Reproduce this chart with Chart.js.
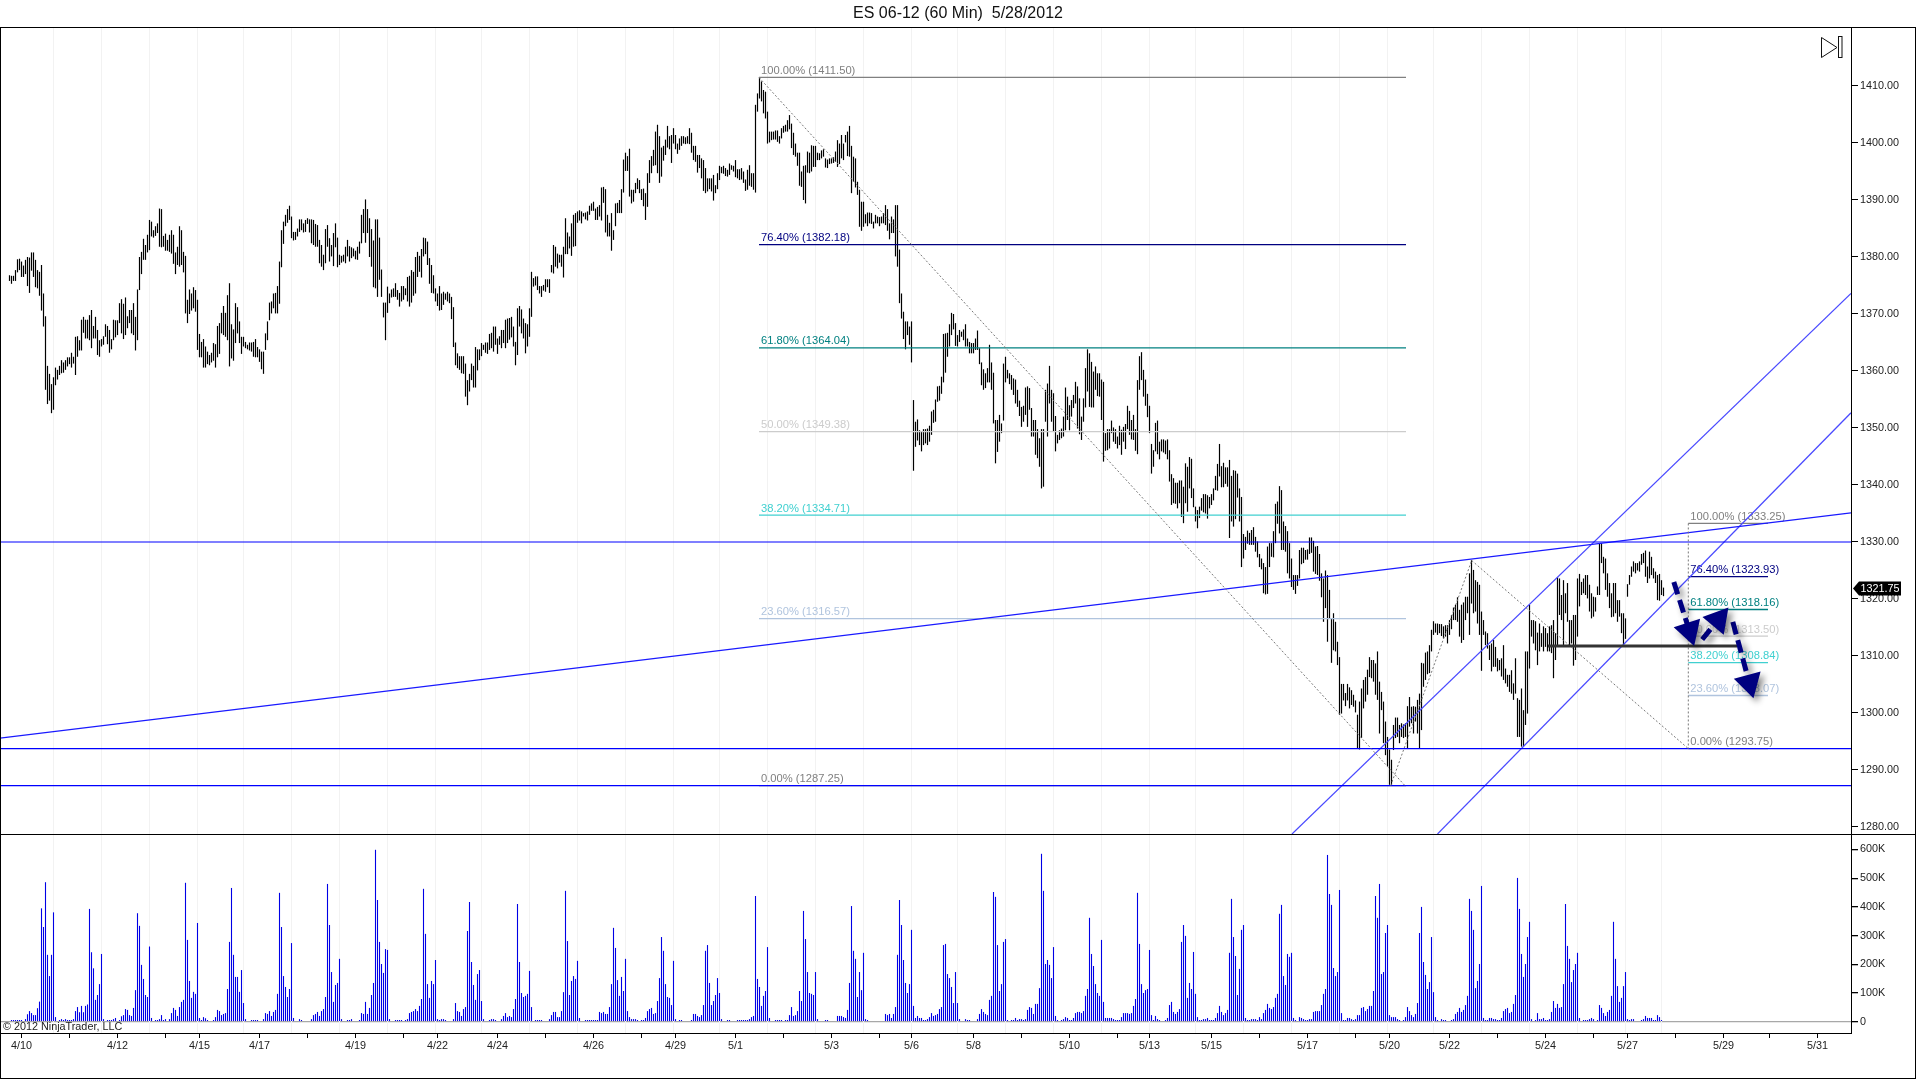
<!DOCTYPE html>
<html><head><meta charset="utf-8">
<style>
html,body{margin:0;padding:0;background:#fff;width:1920px;height:1079px;overflow:hidden}
canvas{position:absolute;left:0}
.line{position:absolute;background:#000}
</style>
<script src="https://cdn.jsdelivr.net/npm/chart.js@4"></script>
</head><body>
<canvas id="price" style="top:0" width="1916" height="834"></canvas>
<canvas id="vol" style="top:834px" width="1916" height="245"></canvas>
<div class="line" style="left:0;top:27px;width:1916px;height:1px"></div>
<div class="line" style="left:0;top:27px;width:1px;height:1052px"></div>
<div class="line" style="left:1915px;top:27px;width:1px;height:1052px"></div>
<div class="line" style="left:0;top:1078px;width:1916px;height:1px"></div>
<div class="line" style="left:0;top:834px;width:1916px;height:1px"></div>
<script>
const titleText = 'ES 06-12 (60 Min)  5/28/2012';
const highs = [
1376.8,1376.7,1376.7,1377.7,1379.6,1379.7,1379.2,1378.5,1379.5,1380,
1379.9,1380.8,1380.8,1379.5,1377.7,1377.4,1378.6,1373.6,1369.6,1360.9,
1359.5,1357.7,1358.9,1360.6,1360.2,1360.9,1361.9,1361.5,1361.9,1362.4,
1362.4,1363.2,1362.5,1366,1366.1,1365.4,1369,1369.5,1369,1369,
1369.8,1370.7,1367.9,1369.5,1367.2,1365.4,1365.6,1366.1,1368.2,1367.9,
1367.2,1365.6,1369,1368.9,1368.9,1371.9,1372.6,1371.8,1372.9,1369.6,
1370.7,1370.7,1371.9,1369.5,1374.3,1380,1380.9,1383.2,1382.1,1383.9,
1386.5,1386.2,1384.7,1385.4,1385.9,1388.5,1388.4,1383.7,1384.1,1383,
1383.9,1384.7,1383.9,1380.8,1381.8,1385.4,1384.7,1380.9,1380.2,1372.5,
1374.3,1373.6,1374.7,1374.2,1372.5,1366.5,1365.1,1365.6,1364.3,1363.4,
1362.8,1363.2,1364.9,1364.7,1367.9,1368.4,1370.2,1371.4,1370.2,1373.3,
1375.4,1368.2,1367.3,1371.9,1371.2,1368.7,1366,1366,1365.1,1364.6,
1365,1365,1365.1,1365.6,1364.2,1363.8,1363.4,1363.4,1366.6,1368.7,
1372,1372.2,1373.6,1373.7,1374.9,1379.2,1384.7,1386.2,1387.4,1388.4,
1389,1387.1,1384.4,1384.4,1385,1386.6,1386.6,1385.9,1386.5,1386.8,
1386.6,1386.6,1386.5,1385.8,1385.6,1383,1382.1,1380.4,1384.9,1385.6,
1383.3,1382.1,1384.2,1385.9,1383.4,1380.4,1380.2,1380.4,1381.8,1383,
1381.9,1381.7,1381.5,1381.1,1381.8,1382.7,1387.4,1388.4,1390.1,1388.4,
1386.8,1384.9,1382.9,1386.6,1386.6,1383.4,1377.8,1372,1372,1374.8,
1373.6,1374.3,1374.5,1375.4,1374.2,1373.7,1374.9,1374.9,1374.5,1376.5,
1376.7,1377.7,1377.4,1380,1380.9,1380.2,1381.4,1383.4,1383.3,1382.7,
1379.8,1378.6,1376.8,1374.5,1373.6,1374.9,1373.6,1373.9,1373.6,1373.9,
1373.6,1373,1371.2,1365,1363.1,1362.6,1362.6,1362.6,1361.3,1358.4,
1359.5,1361.3,1360.9,1364.2,1363.8,1363.8,1364.9,1364.6,1365,1365,
1366.5,1366.7,1367.8,1367.8,1365.7,1366.1,1367.2,1367.2,1369,1369.2,
1369.3,1369.5,1367.8,1365.1,1371,1371.4,1370.8,1369.2,1368.4,1368.2,
1371,1377.4,1376.3,1376.6,1376.6,1374.9,1374.9,1375.1,1376.1,1376.1,
1376.1,1378.6,1382.1,1381.8,1380.6,1380.4,1380.4,1381.8,1386.8,1384.3,
1383.6,1385.9,1387.4,1387.7,1388,1388.2,1388,1387.7,1387.8,1388,
1389,1389.4,1389.7,1388.5,1388.8,1389.1,1392.2,1392.3,1391.9,1387.4,
1386,1387.7,1384.7,1389.4,1389.5,1390,1391.9,1397.1,1398.3,1397.7,
1399,1391.8,1391.8,1393,1393.8,1393.5,1391.9,1392,1391.2,1394.7,
1397,1397.7,1398.8,1402,1403.2,1401.2,1399.2,1399.5,1400.6,1403,
1401.2,1401.4,1402.6,1401.4,1399.9,1400.8,1401.2,1401.2,1401,1401.2,
1402.6,1401.8,1399.5,1399.5,1397.9,1397.9,1397.3,1397,1395.6,1393.8,
1393.8,1393.8,1394.4,1392.6,1394.7,1396,1395.8,1396,1395.6,1395.3,
1396.4,1396.1,1396,1397,1395.4,1395.4,1395.6,1395,1393.6,1395.3,
1396.1,1394.7,1394.7,1406.7,1408.7,1411.5,1410.8,1409.3,1409,1405.5,
1402,1402,1402,1402.2,1402.2,1401.2,1402.6,1403,1403.2,1404,
1404.9,1403.4,1401.8,1399.9,1398.3,1398.3,1395,1396,1396.1,1398.5,
1398.3,1399.6,1399.5,1399.5,1398.3,1398.2,1398.7,1398.9,1397.3,1397.1,
1397.3,1397.3,1397.5,1398.5,1400.5,1399.9,1401.4,1399.9,1401.4,1402,
1403,1399.5,1397.6,1397.3,1393.2,1391.8,1389.7,1389.7,1387.5,1387.8,
1387.8,1387.7,1386.2,1387.4,1387.1,1387,1387.1,1387.7,1389.1,1388.4,
1385.9,1387.1,1386.6,1389.1,1389.1,1381.3,1373.6,1370.4,1368.7,1368.7,
1367.8,1368.7,1354.9,1351.1,1351.5,1349.6,1349.4,1349.8,1349.8,1349.9,
1350.4,1352.9,1353.2,1355,1357.3,1357.4,1359,1366.5,1366.6,1366.7,
1368.2,1370.2,1370,1368.4,1366.3,1367.2,1366.9,1367.3,1368.2,1365.7,
1365.1,1364.9,1364.9,1365.7,1367.1,1364,1361.5,1360.3,1359.6,1360.5,
1364.6,1361.5,1359.7,1351.4,1351.4,1352.3,1350.8,1361.3,1362.5,1360.2,
1359.6,1359.3,1358.7,1358.5,1356.7,1354.8,1353.7,1353.9,1357.1,1357.3,
1357,1353.5,1351.4,1351.4,1349.8,1348.2,1349.8,1349.8,1356.7,1357.8,
1360.9,1356.7,1356.1,1352.1,1348.8,1349.6,1349.9,1352,1357.1,1355.5,
1354,1354.9,1355.8,1358.1,1357.3,1355.2,1352,1355.2,1360.5,1363.8,
1363.1,1361.6,1359.9,1360.8,1359.6,1359.6,1358.5,1358.1,1349.1,1349.8,
1349.8,1351.3,1350.1,1349.8,1348.5,1350.4,1349.7,1350.2,1350.7,1353.9,
1353,1351.4,1352.3,1349.8,1358.4,1362.6,1363.3,1360.2,1358.5,1356,
1353.9,1347.2,1346.1,1350.9,1351.3,1347.6,1348,1348,1347.8,1348,
1346.1,1341.9,1341.2,1340.4,1340.4,1340.8,1340.8,1339.7,1343.8,1343.2,
1344.9,1344.6,1339.4,1336.2,1335.6,1336.2,1337.7,1338.4,1338.4,1338.2,
1337.9,1338.4,1339.4,1341.6,1343.7,1347.2,1343.3,1343.9,1343.1,1343.1,
1344.4,1341.6,1342.6,1342.5,1342,1339.4,1337.9,1331.4,1330.9,1332,
1331.6,1332.1,1332.6,1330.9,1330.1,1327.9,1327.1,1326.3,1325.6,1329.2,
1329.8,1329.8,1331.9,1336.7,1337.1,1339.8,1339.1,1333.6,1332.8,1331.9,
1329.8,1327.1,1324.2,1324.2,1324.2,1328.6,1329,1329,1328.6,1328.7,
1330.8,1330.8,1330.2,1329.2,1329.3,1327.9,1324.5,1323.6,1325,1324.2,
1321.6,1316.6,1317.5,1316,1312.5,1309.8,1305.1,1305.1,1303.5,1305.1,
1304.5,1304,1303.2,1302.2,1299.7,1302,1304.3,1305.8,1306.3,1307.6,
1309.8,1309.3,1309.3,1308.7,1310.8,1305.5,1303.7,1302,1298.5,1295.8,
1293.6,1291.8,1297.9,1299.2,1299.2,1297.9,1298.2,1298,1298.2,1301.2,
1302.8,1301.1,1301.2,1301.1,1302.3,1303.4,1308.8,1308.7,1310.6,1310.8,
1311.9,1314.6,1316.1,1315.7,1315.7,1315.6,1315.6,1315.2,1315.4,1315.4,
1316.3,1317.2,1318.5,1319,1320.3,1318.1,1319,1319.4,1320.4,1320.4,
1324.5,1326.8,1325.1,1323.3,1323,1322.5,1317.8,1316.3,1314.3,1314,
1311.9,1312.2,1312.8,1311.6,1309.6,1309.3,1309.6,1311.9,1307.8,1306.7,
1306.7,1307.5,1305.2,1309.6,1302.6,1302.3,1304.3,1300.5,1310.8,1310.8,
1319,1316.3,1316.3,1316.1,1314.1,1315.7,1314,1315.2,1314.9,1314,
1315.2,1315.4,1316.3,1314,1323.8,1323.6,1320.7,1323.3,1321,1322.8,
1316.3,1316.3,1317.2,1317.2,1323.6,1324.4,1323,1323.6,1324.2,1324.2,
1322.5,1321,1320.4,1320.3,1322.2,1329.8,1329.8,1327.4,1327.1,1324.5,
1322.8,1321,1322.8,1322.8,1319.8,1319.8,1317.5,1317.5,1316.6,1322.6,
1324.2,1325.7,1326.6,1326.3,1326.3,1326.6,1327.9,1328.1,1328.5,1325.7,
1328.3,1327.4,1325.4,1324.8,1324.2,1324.4,1323.3,1322];
const lows = [
1375.8,1375.3,1375.8,1375.8,1377.3,1377.7,1376.5,1376.5,1377,1374.9,
1373.7,1377.6,1376.5,1374.7,1374.5,1373.2,1370.6,1367.8,1356.7,1354.2,
1354.8,1352.6,1353.2,1357.5,1358.5,1359.3,1359.6,1359.7,1360.2,1360.8,
1361.2,1360.6,1361.3,1359.3,1362.5,1363.6,1363.6,1366.7,1365.7,1365.7,
1365.4,1364,1365.7,1365.7,1362.8,1362.5,1364.3,1364.6,1366,1364.7,
1363.2,1363.8,1365.4,1365.9,1366.3,1368.4,1366.6,1365.6,1366.3,1367.5,
1368.4,1366.6,1366.3,1363.6,1365.4,1374.2,1377,1379.5,1379.5,1380.8,
1381.2,1383.6,1383.4,1383.7,1384.2,1381.8,1381.7,1381.8,1381.1,1381.1,
1380.9,1380.6,1378.8,1377,1378.6,1378.3,1378.6,1377.3,1370.1,1368.4,
1370,1370.6,1371,1370.4,1363.7,1362.4,1362.4,1360.6,1360.6,1361.2,
1361,1361.5,1361.8,1360.6,1362.4,1363,1366.6,1366.3,1366,1365.4,
1360.8,1362.2,1361.8,1364.9,1366.6,1364.9,1363,1364.3,1364,1363.8,
1363.6,1363.4,1362.5,1362.4,1362.4,1361.6,1360.3,1359.5,1363.7,1365.4,
1368.9,1370.1,1371,1370.1,1370.1,1371.8,1378.2,1382.3,1385.4,1386,
1386.5,1383.3,1382.9,1383,1383.6,1384.4,1384.7,1384.3,1384.4,1385.8,
1384.3,1382.4,1382.1,1381.8,1381.8,1378.9,1378.3,1377.7,1378.9,1381.8,
1379.2,1380.1,1378.4,1381.7,1378.2,1378.6,1379,1379.2,1378.9,1380.1,
1379.2,1379.8,1380.1,1379.6,1379.5,1380.6,1382.4,1384.2,1382.5,1384.2,
1380,1378.3,1374.7,1374.5,1373,1376,1373,1369.4,1365.4,1370.2,
1371.9,1372.9,1373,1373,1372.5,1371.3,1372.2,1372.5,1373.3,1372.2,
1371.3,1372,1373.2,1373.6,1376.5,1377.4,1376.4,1380.1,1380.5,1378.6,
1375.3,1373.7,1373.6,1372.2,1371.4,1370.6,1370.7,1371.6,1372.5,1372.2,
1371.9,1369.1,1364.2,1361,1360.5,1360.2,1359.6,1359.5,1355.5,1354,
1356.4,1358.4,1357.1,1357.1,1360.1,1361.9,1362.6,1363.7,1363.2,1363,
1363.7,1364,1363.4,1364.6,1363,1364.6,1364,1364.9,1364,1364.9,
1365.5,1365.9,1364.3,1361,1362.8,1367.8,1366.6,1365.7,1363.1,1364.3,
1366,1369.5,1374.8,1375,1374.2,1373.6,1373,1374.1,1373.9,1374.7,
1373.7,1377.3,1377.1,1378.3,1378,1379,1378.3,1376.4,1380.5,1380.5,
1381.5,1380.2,1381.8,1381.9,1386,1386.4,1385.9,1387.1,1386.6,1386.4,
1387.4,1388.1,1388.1,1386.5,1386.5,1387.1,1386.4,1389.5,1384.3,1383.6,
1383.6,1381.1,1383,1385.4,1387.7,1387.7,1387.7,1391.3,1395.1,1395.1,
1390.6,1389.4,1389.7,1391.2,1391.9,1391.2,1390,1388.9,1386.5,1388.8,
1393,1394.7,1396,1396.1,1394.7,1393,1394.1,1396.9,1397.9,1399.2,
1398.9,1396.5,1399.9,1398.9,1398.1,1398.8,1399.5,1399.9,1399.8,1399.9,
1399.8,1398.3,1397,1396.7,1394.8,1395.6,1393.8,1391.6,1391.2,1391.5,
1391.9,1391.5,1389.9,1391.2,1391.9,1393.5,1394.7,1394.6,1394.2,1394.1,
1394.4,1395.3,1395,1394,1393.8,1393.5,1393.6,1393,1391.6,1391.8,
1392.5,1392.3,1391.8,1391.3,1405.5,1407.8,1407.3,1405.2,1404.3,1399.9,
1400.1,1400.5,1400.6,1400.6,1400.2,1399.9,1400.8,1401.8,1402,1402,
1402.4,1399.1,1397.9,1397.6,1396,1392.5,1392.3,1390,1389.4,1394.8,
1394.7,1395,1395.8,1395.8,1397,1397,1397.3,1397.6,1395.7,1395.6,
1396.3,1396.4,1396.5,1396.7,1395.8,1396.3,1397.3,1397,1400.1,1397.7,
1397.6,1391.2,1393.2,1392.2,1390.9,1385.3,1384.6,1385.3,1385.9,1385.4,
1385.9,1385.8,1385,1385.9,1385.9,1385.4,1385.9,1385.9,1385.6,1384.6,
1383.1,1384.2,1384.2,1380.1,1378.3,1371.9,1369.2,1365.6,1363.8,1366.3,
1364.6,1361.5,1342.5,1346.7,1347.8,1347,1345.9,1347,1347.3,1347,
1347.6,1348.8,1350.9,1351.1,1354.6,1354.8,1356,1358,1359.7,1362.5,
1364.3,1366.3,1367.3,1364.4,1364.3,1365.1,1366,1365.4,1364.3,1364.3,
1363.1,1363.1,1363.1,1363.7,1363.7,1361.2,1357.5,1356.7,1357,1358,
1358,1356.7,1350.8,1343.8,1345.8,1347.6,1349.1,1351.3,1358,1358.7,
1357.7,1356.7,1355.8,1354.3,1353.7,1352.1,1350.2,1351.1,1352.3,1350.2,
1353.2,1348.5,1348.5,1345.3,1344.7,1343.2,1339.4,1339.7,1351.1,1348.5,
1354.3,1351.1,1349.4,1345.9,1347.3,1347.9,1348.2,1348.5,1349.6,1351.4,
1349.6,1352,1353.5,1354.3,1349.9,1348.9,1347.9,1351.1,1353.6,1356.4,
1353.7,1353.6,1353.6,1356.7,1355.6,1355.5,1351.4,1344.1,1346,1346.1,
1346.4,1349.1,1347.6,1347.2,1346.4,1347,1345.3,1347.6,1346.3,1349.8,
1348.8,1348,1347.9,1346,1345.4,1356.7,1358.4,1355.5,1353.9,1351.9,
1349.1,1342,1343.2,1345.9,1345.4,1344.5,1345.9,1345.7,1345.4,1344.5,
1340.6,1336.5,1336.8,1336.7,1335.9,1336.8,1334.4,1333.3,1336.8,1335.3,
1339.4,1337.7,1336.1,1333.6,1332.4,1334.2,1335.5,1335.2,1335,1334.1,
1335.9,1336.5,1337.3,1339.1,1339,1341.5,1339.6,1339.6,1340.2,1339.7,
1330.7,1333.6,1332.7,1334,1337.8,1333.6,1325.6,1327.1,1328.6,1329.7,
1329.5,1329.5,1329.5,1328.3,1327.3,1325.6,1325.2,1321,1320.8,1320.9,
1325.6,1327.4,1327.3,1329.8,1333.2,1331.5,1328.6,1328.6,1328.3,1324.5,
1323.6,1322.1,1321.6,1320.9,1322.3,1323.6,1326.1,1326.3,1326.9,1326.9,
1327.9,1328.1,1324.8,1324.4,1324.2,1323.2,1320.3,1316,1318.4,1312.5,
1316.6,1308.8,1311,1310.8,1308.4,1299.7,1299.9,1302.2,1301.2,1302.2,
1300.8,1301.4,1301.1,1300.1,1293.8,1293.6,1295.6,1300.8,1302,1303.2,
1306.3,1306.1,1305.5,1303.2,1302.3,1296.4,1300.5,1294.7,1292.6,1290.6,
1287.4,1287.4,1293.5,1295.6,1295.8,1294.7,1295.8,1295.6,1295.8,1293.8,
1297.6,1298.2,1296.4,1298.5,1296.4,1293.8,1297,1304.6,1305.8,1306.8,
1307,1310.8,1313.7,1314.1,1313.7,1314,1313.5,1313.1,1313.4,1312.2,
1313.7,1314.7,1316.3,1316.3,1316,1313.4,1312.3,1312.8,1316.3,1317.5,
1313.7,1319.2,1317.5,1317.8,1315.7,1313.7,1307.4,1313.7,1311.9,1311.3,
1309.3,1307.3,1308.1,1308.1,1307.3,1307.5,1306.4,1305.8,1305.2,1304.6,
1303.7,1303.4,1302.3,1303.4,1295.8,1295.8,1294.1,1294.1,1297.9,1299.9,
1307.8,1313.4,1312.2,1311,1308.4,1310.8,1311.6,1310.8,1311.6,1310.8,
1310.8,1310.5,1306.1,1309.3,1311.6,1317.2,1316.3,1311.6,1317.5,1316,
1311.9,1312.2,1308.3,1309.3,1313.4,1318.7,1320.7,1321,1320.7,1320.1,
1317.8,1316.6,1316.9,1317.8,1320.7,1320.7,1326.3,1324.5,1321.6,1320.4,
1318.4,1316.8,1316.9,1317.5,1316,1316.9,1314,1311.9,1313,1320.4,
1322.5,1323.9,1324.8,1324.5,1325,1324.8,1326,1326.3,1323.9,1322.8,
1323.6,1324.2,1323.6,1322.8,1319.8,1319.7,1320.7,1320.5];
const volumes = [0,
6,6,6,6,6,6,0,9,26,37,30,23,23,47,70,395,330,486,233,159,233,381,16,0,6,9,6,9,6,6,6,9,37,51,33,55,33,55,60,393,242,186,76,93,131,236,9,0,6,6,6,9,13,0,6,19,23,44,41,23,20,48,110,378,334,198,149,93,86,262,13,0,6,6,9,23,6,9,0,9,30,48,41,20,51,69,76,484,285,142,83,104,97,344,13,6,16,12,6,0,0,6,16,41,37,23,27,30,114,278,466,233,156,156,104,180,65,9,0,0,6,6,6,6,0,0,9,30,27,37,20,34,41,97,449,330,159,121,86,114,274,13,0,0,9,6,0,0,0,0,9,23,27,34,20,37,44,86,480,337,173,69,128,135,219,9,0,0,6,6,9,0,0,0,6,30,27,69,27,48,93,135,599,424,278,201,170,253,250,9,0,0,6,6,6,6,0,6,9,30,34,37,44,37,55,79,463,306,131,83,142,131,215,9,6,9,9,6,0,0,0,9,65,37,34,20,44,51,316,417,208,128,76,166,180,72,9,0,0,6,9,9,6,0,
0,9,20,30,16,20,16,44,79,410,208,100,86,90,97,177,51,0,6,6,6,6,0,0,0,9,23,34,34,16,16,37,103,456,281,93,142,159,149,212,13,0,0,6,6,6,6,6,6,6,34,30,34,27,27,51,131,327,257,145,90,156,107,219,37,16,9,9,9,6,0,6,6,13,37,44,48,27,30,72,152,295,247,131,86,83,58,212,9,0,6,6,0,0,0,0,6,27,27,20,16,23,58,247,267,135,58,72,93,152,100,9,0,0,6,6,0,0,0,6,6,6,6,6,6,9,16,20,438,149,121,55,90,107,260,13,0,0,6,6,6,6,0,6,6,23,51,20,23,37,107,72,386,288,173,100,97,93,173,9,0,0,0,6,6,0,0,0,0,20,20,20,16,13,41,135,403,247,219,86,173,110,240,9,6,0,0,0,0,0,0,0,0,27,23,27,13,27,51,233,424,337,215,135,100,131,320,55,13,20,13,13,6,6,9,16,30,20,23,27,44,51,267,271,166,152,121,65,173,65,9,0,0,9,6,6,0,0,0,9,27,
44,34,27,23,76,90,452,435,267,107,131,278,288,6,0,6,6,13,6,9,9,6,9,41,51,48,27,62,62,117,585,456,201,215,198,152,260,20,6,0,6,9,16,13,6,6,13,30,34,34,30,37,90,114,362,236,194,131,100,90,285,69,13,13,13,13,9,6,6,6,16,30,30,30,27,30,55,79,449,271,131,100,110,114,250,23,6,20,9,6,0,0,6,13,58,69,34,27,34,44,278,337,299,83,135,114,243,97,16,6,6,9,9,13,6,6,6,13,30,55,34,23,30,41,240,428,295,229,93,184,320,337,13,6,6,9,9,9,6,16,9,30,41,62,48,44,51,83,97,376,407,159,128,236,226,240,13,6,0,16,13,9,6,6,9,9,34,37,37,37,58,97,114,581,445,407,187,159,173,459,30,6,6,13,13,9,6,9,23,23,48,51,37,44,55,55,107,438,362,480,166,173,309,337,23,16,16,16,9,6,0,6,16,51,37,23,16,27,65,309,400,208,163,114,138,295,103,16,6,0,9,6,6,0,0,6,9,27,34,48,
34,41,58,90,428,386,320,117,142,201,473,13,6,6,13,13,9,9,6,6,13,37,44,48,30,34,62,93,501,393,236,156,201,295,348,9,0,6,30,9,9,13,6,6,9,34,72,48,62,48,51,131,410,264,219,138,180,201,240,13,0,6,6,6,9,13,9,0,6,58,48,30,20,34,41,90,348,219,124,69,83,124,173,9,6,9,9,0,0,0,6,9,20,13,13,13,6,6,23,16,6,0];

const priceTicks = [1280,1290,1300,1310,1320,1330,1340,1350,1360,1370,1380,1390,1400,1410];
const volumeTicks = [0,100,200,300,400,500,600];
const xTickBars = [6,30,54,78,95,125,149,173,197,214,244,268,292,316,333,363,387,411,435,451,482,506,530,554,570,601,625,649,673,690,720,744,768,792,809,833,857,880,904];
const xTickLabels = ['4/10','','4/12','','4/15','4/17','','4/19','','4/22','4/24','','4/26','','4/29','5/1','','5/3','','5/6','5/8','','5/10','','5/13','5/15','','5/17','','5/20','5/22','','5/24','','5/27','','5/29','','5/31'];
const gridBars = [22,46,70,94,117,141,165,189,213,236,260,284,308,332,355,379,403,427,451,474,498,522,546,570,593,617,641,665,689,712,736,760,784,808,826];

const fibLevelsA = [[100,1411.50,'#808080'],[76.4,1382.18,'#000080'],[61.8,1364.04,'#008080'],[50,1349.38,'#cccccc'],[38.2,1334.71,'#40d0d0'],[23.6,1316.57,'#b0c4de'],[0,1287.25,'#808080']];
const fibLevelsB = [[100,1333.25,'#808080'],[76.4,1323.93,'#000080'],[61.8,1318.16,'#008080'],[50,1313.50,'#cccccc'],[38.2,1308.84,'#40d0d0'],[23.6,1303.07,'#b0c4de'],[0,1293.75,'#808080']];
const fibSpanA = [374.75,698.25];
const fibSpanB = [839.4,879.25];
const horizontalLevels = [1330,1293.75,1287.25];
const supportLine = [[-4.75,1295.6],[920.75,1335.1]];
const channelUpper = [[641.25,1278.77],[920.75,1373.6]];
const channelLower = [[714,1278.77],[920.75,1352.67]];
const dottedLines = [[[374.75,1411.5],[697.75,1287.25]],[[690.6,1287.25],[731.1,1326.75]],[[731.1,1326.75],[839.4,1293.75]],[[839.4,1333.25],[839.4,1293.75]]];
const pivotLine = [[769.25,1311.75],[863.75,1311.75]];
const arrowPaths = [[[832.15,1323.0],[839.9,1314.44]],[[846.35,1312.9],[854.35,1316.35]],[[861.65,1316.0],[869.9,1305.3]]];
const arrowAngles = [162.4,39.8,164.9];
const lastPrice = 1321.75;
const copyrightText = '\u00A9 2012 NinjaTrader, LLC';

const XMIN=-4.75, XMAX=920.75, PMIN=1278.77, PMAX=1420.35, VMIN=-39.4, VMAX=654;
const FONT='"Liberation Sans", Arial, sans-serif';
const TEXT='#222222';
const pts = a => a.map(p=>({x:p[0],y:p[1]}));
const lineDs = (data,color,width,extra) => Object.assign({type:'line',data,borderColor:color,borderWidth:width,pointRadius:0,tension:0,fill:false,order:2},extra||{});
const gridData = (lo,hi) => gridBars.flatMap(g=>[{x:g,y:hi},{x:g,y:lo},{x:g,y:null}]);
const fitRightAxis = s => {s.width=65;s.paddingTop=0;s.paddingBottom=0;};

const xScale = extra => Object.assign({type:'linear',min:XMIN,max:XMAX,offset:false,
  afterBuildTicks(s){s.ticks=xTickBars.map(value=>({value}));}},extra);

const fibDatasets = (levels,span) => levels.map(l=>lineDs([{x:span[0],y:l[1]},{x:span[1],y:l[1]}],l[2],1.3,{order:3}));

const pricePlugin = {id:'priceMarks',
  beforeDatasetDraw(c,a){const d=c.data.datasets[a.index];
    if(d.arrowShadow){c.ctx.shadowColor='rgba(0,0,0,0.45)';c.ctx.shadowBlur=6;c.ctx.shadowOffsetX=4;c.ctx.shadowOffsetY=4;}},
  afterDatasetDraw(c,a){const d=c.data.datasets[a.index],g=c.ctx;
    if(d.arrowShadow){g.shadowColor='transparent';g.shadowBlur=0;g.shadowOffsetX=0;g.shadowOffsetY=0;}
    if(d.fibText){
      const x=c.scales.x,y=c.scales.y;
      g.save();g.font='11.2px '+FONT;g.textBaseline='bottom';g.textAlign='left';
      [[fibLevelsA,fibSpanA],[fibLevelsB,fibSpanB]].forEach(([lv,sp])=>lv.forEach(l=>{
        g.fillStyle=l[2];
        g.fillText(l[0].toFixed(2)+'% ('+l[1].toFixed(2)+')',x.getPixelForValue(sp[0])+2,y.getPixelForValue(l[1])-1);
      }));
      g.restore();
    }},
  afterDraw(c){const g=c.ctx,y=c.scales.y.getPixelForValue(lastPrice)-0.5;
    g.save();
    g.fillStyle='#000';g.beginPath();g.moveTo(1853,y);g.lineTo(1859,y-7);g.lineTo(1901,y-7);g.lineTo(1901,y+7);g.lineTo(1859,y+7);g.closePath();g.fill();
    g.fillStyle='#fff';g.font='10.8px '+FONT;g.textBaseline='middle';g.textAlign='left';g.fillText(lastPrice.toFixed(2),1860.5,y+0.5);
    g.strokeStyle='#111';g.lineWidth=1;g.beginPath();g.moveTo(1821.5,37.5);g.lineTo(1837,47.5);g.lineTo(1821.5,57.5);g.closePath();g.stroke();
    g.strokeRect(1838.5,36.5,3.5,21);
    g.restore();}
};

new Chart(document.getElementById('price'),{
  type:'bar',
  plugins:[pricePlugin],
  data:{datasets:[
    lineDs(gridData(PMIN,PMAX),'#f2f2f2',1,{order:10}),
    {type:'bar',label:'ES 06-12',data:highs.map((h,i)=>({x:i,y:[lows[i],h]})),backgroundColor:'#000',barThickness:1.2,inflateAmount:0,grouped:false,order:5,fibText:true},
    ...fibDatasets(fibLevelsA,fibSpanA),
    ...fibDatasets(fibLevelsB,fibSpanB),
    ...dottedLines.map(l=>lineDs(pts(l),'#777777',1,{borderDash:[2,2],order:2})),
    ...horizontalLevels.map(v=>lineDs([{x:XMIN,y:v},{x:XMAX,y:v}],'#0000ff',1.2,{order:2})),
    lineDs(pts(supportLine),'#1a1aff',1.3,{order:2}),
    lineDs(pts(channelUpper),'#4a4aff',1.2,{order:2}),
    lineDs(pts(channelLower),'#4a4aff',1.2,{order:2}),
    lineDs(pts(pivotLine),'#333333',3,{order:1}),
    ...arrowPaths.map((a,i)=>lineDs(pts(a),'#000080',5,{order:0,borderDash:[13,6],arrowShadow:true,
        pointRadius:[0,16],pointStyle:'triangle',pointRotation:[0,arrowAngles[i]],pointBackgroundColor:'#000080',pointBorderColor:'#000080',pointBorderWidth:0}))
  ]},
  options:{responsive:false,animation:false,devicePixelRatio:1,events:[],
    layout:{padding:0,autoPadding:false},
    plugins:{legend:{display:false},tooltip:{enabled:false},
      title:{display:true,text:titleText,color:'#111',align:'center',font:{family:FONT,size:16,weight:'normal',lineHeight:1.2},padding:{top:4,bottom:3.8}}},
    scales:{
      x:xScale({display:false}),
      y:{position:'right',min:PMIN,max:PMAX,
        afterFit:fitRightAxis,
        afterBuildTicks(s){s.ticks=priceTicks.map(value=>({value}));},
        border:{display:true,color:'#000',width:1},
        grid:{drawOnChartArea:false,drawTicks:true,tickLength:7,tickColor:'#000'},
        ticks:{color:TEXT,padding:2,font:{family:FONT,size:10.8},callback:v=>v.toFixed(2)}}
    }}
});

const volPlugin = {id:'volMarks',
  afterDatasetsDraw(c){const g=c.ctx;g.save();g.font='10.8px '+FONT;g.fillStyle=TEXT;g.textBaseline='middle';g.textAlign='left';
    g.fillText(copyrightText,3,193);g.restore();}};

new Chart(document.getElementById('vol'),{
  type:'bar',
  plugins:[volPlugin],
  data:{datasets:[
    lineDs(gridData(VMIN,VMAX),'#f2f2f2',1,{order:10}),
    {type:'bar',label:'Volume',data:volumes.map((v,i)=>({x:i,y:v})),backgroundColor:'#0000e6',barThickness:1.1,inflateAmount:0,grouped:false,order:5}
  ]},
  options:{responsive:false,animation:false,devicePixelRatio:1,events:[],
    layout:{padding:0,autoPadding:false},
    plugins:{legend:{display:false},tooltip:{enabled:false},title:{display:false}},
    scales:{
      x:xScale({
        afterFit(s){s.height=46;s.paddingLeft=0;s.paddingRight=0;},
        border:{display:true,color:'#000',width:1},
        grid:{drawOnChartArea:false,drawTicks:true,tickLength:5,tickColor:'#000',offset:false},
        ticks:{color:TEXT,padding:2,autoSkip:false,maxRotation:0,minRotation:0,font:{family:FONT,size:10.8},callback:(v,i)=>xTickLabels[i]}}),
      y:{position:'right',min:VMIN,max:VMAX,
        afterFit:fitRightAxis,
        afterBuildTicks(s){s.ticks=volumeTicks.map(value=>({value}));},
        border:{display:true,color:'#000',width:1},
        grid:{drawOnChartArea:true,lineWidth:1.3,color:c=>c.tick&&c.tick.value===0?'#a8a8a8':'transparent',drawTicks:true,tickLength:7,tickColor:'#000'},
        ticks:{color:TEXT,padding:2,font:{family:FONT,size:10.8},callback:v=>v===0?'0':v+'K'}}
    }}
});
</script>
</body></html>
